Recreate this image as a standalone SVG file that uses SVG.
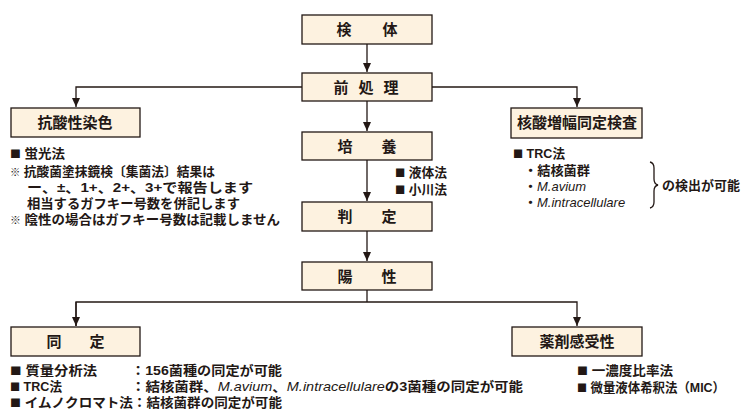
<svg xmlns="http://www.w3.org/2000/svg" width="750" height="420" viewBox="0 0 750 420">
<defs>
<marker id="arr" markerUnits="userSpaceOnUse" markerWidth="10" markerHeight="8" refX="9" refY="4" orient="auto">
<path d="M0,0 L9,4 L0,8 Z" fill="#231815"/>
</marker>
<style>
.box{fill:#fdf2e0;stroke:#231815;stroke-width:1.3}
.lbl{font-family:"Noto Sans CJK JP","Noto Sans",sans-serif;font-weight:bold;font-size:15px;fill:#231815;text-anchor:middle}
.t{font-family:"Liberation Sans","Noto Sans CJK JP",sans-serif;font-weight:bold;font-size:13px;fill:#231815}
.j{font-family:"Noto Sans CJK JP",sans-serif;font-size:10.5px}
.it{font-family:"Liberation Sans","Noto Sans",sans-serif;font-style:italic;font-weight:normal}
.c{fill:none;stroke:#231815;stroke-width:1.3}
</style>
</defs>
<rect width="750" height="420" fill="#ffffff"/>
<g id="connectors">
<path class="c" d="M367,44 V72" marker-end="url(#arr)"/>
<path class="c" d="M367,101 V131" marker-end="url(#arr)"/>
<path class="c" d="M367,160 V201" marker-end="url(#arr)"/>
<path class="c" d="M367,231 V261" marker-end="url(#arr)"/>
<path class="c" d="M302,87 H76 V107" marker-end="url(#arr)"/>
<path class="c" d="M432,87 H577 V107" marker-end="url(#arr)"/>
<path class="c" d="M367,290 V302"/>
<path class="c" d="M76,326 V302 H577 V326" marker-end="url(#arr)"/>
<path class="c" d="M76,302 V326" marker-end="url(#arr)"/>
<path class="c" d="M650,162 q4,1 4,6 v11 q0,5 4,6 q-4,1 -4,6 v11 q0,5 -4,6"/>
</g>
<g id="node-kentai">
<rect class="box" x="302" y="15" width="130" height="29"/>
<text class="lbl" y="35"><tspan x="344">検</tspan><tspan x="390">体</tspan></text>
</g>
<g id="node-shori">
<rect class="box" x="302" y="73" width="130" height="28"/>
<text class="lbl" y="93"><tspan x="341">前</tspan><tspan x="366">処</tspan><tspan x="391">理</tspan></text>
</g>
<g id="node-baiyou">
<rect class="box" x="302" y="132" width="130" height="28"/>
<text class="lbl" y="152"><tspan x="345">培</tspan><tspan x="389">養</tspan></text>
<text class="t" x="395" y="177" textLength="52" lengthAdjust="spacingAndGlyphs"><tspan class="j">■</tspan> 液体法</text>
<text class="t" x="395" y="194" textLength="52" lengthAdjust="spacingAndGlyphs"><tspan class="j">■</tspan> 小川法</text>
</g>
<g id="node-hantei">
<rect class="box" x="302" y="202" width="130" height="29"/>
<text class="lbl" y="222"><tspan x="345">判</tspan><tspan x="389">定</tspan></text>
</g>
<g id="node-yousei">
<rect class="box" x="302" y="262" width="130" height="28"/>
<text class="lbl" y="282"><tspan x="345">陽</tspan><tspan x="389">性</tspan></text>
</g>
<g id="node-kousan">
<rect class="box" x="11" y="108" width="129" height="29"/>
<text class="lbl" x="75" y="128">抗酸性染色</text>
<text class="t" x="10" y="158" textLength="55" lengthAdjust="spacingAndGlyphs"><tspan class="j">■</tspan> 蛍光法</text>
<text class="t" x="10" y="176" textLength="205" lengthAdjust="spacingAndGlyphs"><tspan class="j">※</tspan> 抗酸菌塗抹鏡検〔集菌法〕結果は</text>
<text class="t" x="27" y="192" textLength="226" lengthAdjust="spacingAndGlyphs">ー、±、1+、2+、3+で報告します</text>
<text class="t" x="27" y="208" textLength="213" lengthAdjust="spacingAndGlyphs">相当するガフキー号数を併記します</text>
<text class="t" x="10" y="224" textLength="270" lengthAdjust="spacingAndGlyphs"><tspan class="j">※</tspan> 陰性の場合はガフキー号数は記載しません</text>
</g>
<g id="node-kakusan">
<rect class="box" x="511" y="108" width="131" height="30"/>
<text class="lbl" x="577" y="128">核酸増幅同定検査</text>
<text class="t" x="513" y="158" textLength="52" lengthAdjust="spacingAndGlyphs"><tspan class="j">■</tspan> TRC法</text>
<text class="t" x="524" y="175" textLength="66" lengthAdjust="spacingAndGlyphs">・結核菌群</text>
<text class="t" x="524" y="191">・<tspan class="it">M.avium</tspan></text>
<text class="t" x="524" y="207">・<tspan class="it">M.intracellulare</tspan></text>
<text class="t" x="662" y="190" textLength="78" lengthAdjust="spacingAndGlyphs">の検出が可能</text>
</g>
<g id="node-doutei">
<rect class="box" x="11" y="327" width="129" height="29"/>
<text class="lbl" y="347"><tspan x="54">同</tspan><tspan x="97">定</tspan></text>
<text class="t" x="10" y="375" textLength="87" lengthAdjust="spacingAndGlyphs"><tspan class="j">■</tspan> 質量分析法</text>
<text class="t" x="131" y="375" textLength="151" lengthAdjust="spacingAndGlyphs">：156菌種の同定が可能</text>
<text class="t" x="10" y="391" textLength="52" lengthAdjust="spacingAndGlyphs"><tspan class="j">■</tspan> TRC法</text>
<text class="t" x="131" y="391" textLength="392" lengthAdjust="spacingAndGlyphs">：結核菌群、<tspan class="it">M.avium</tspan>、<tspan class="it">M.intracellulare</tspan>の3菌種の同定が可能</text>
<text class="t" x="10" y="407" textLength="272" lengthAdjust="spacingAndGlyphs"><tspan class="j">■</tspan> イムノクロマト法：結核菌群の同定が可能</text>
</g>
<g id="node-yakuzai">
<rect class="box" x="512" y="327" width="130" height="29"/>
<text class="lbl" x="577" y="347">薬剤感受性</text>
<text class="t" x="577" y="375" textLength="96" lengthAdjust="spacingAndGlyphs"><tspan class="j">■</tspan> 一濃度比率法</text>
<text class="t" x="577" y="392" textLength="148" lengthAdjust="spacingAndGlyphs"><tspan class="j">■</tspan> 微量液体希釈法（MIC）</text>
</g>
</svg>
